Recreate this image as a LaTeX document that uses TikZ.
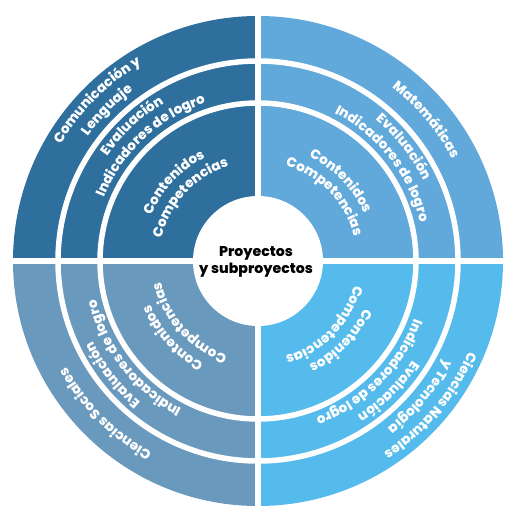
\documentclass[tikz,border=0pt]{standalone}
\usepackage{fontspec}
\setmainfont{Poppins}[BoldFont={Poppins ExtraBold}]
\usetikzlibrary{decorations.text}
\definecolor{cTL}{RGB}{46,111,158}
\definecolor{cTR}{RGB}{97,168,219}
\definecolor{cBL}{RGB}{106,153,190}
\definecolor{cBR}{RGB}{85,187,236}
\newcommand\lblfont{\bfseries\fontsize{13.6}{16}\selectfont}
% #1 radius, #2 centre angle, #3 text
\newcommand\arctext[3]{%
  \path[decorate,decoration={text along path,text align=center,text color=white,
     text={|\lblfont|#3}}]
     (#2+75:#1) arc[start angle=#2+75,end angle=#2-75,radius=#1];}
\begin{document}
\begin{tikzpicture}[x=1bp,y=1bp,
  gapline/.style={white,line width=5.5bp},
  centertext/.style={font=\bfseries\fontsize{14.2}{17}\selectfont,text=black,anchor=base,inner sep=0pt}]
\useasboundingbox (-258,-266) rectangle (269,261);
% quadrants
\fill[cTL] (0,0) -- (180:245) arc[start angle=180,end angle=90,radius=245] -- cycle;
\fill[cTR] (0,0) -- (90:245) arc[start angle=90,end angle=0,radius=245] -- cycle;
\fill[cBL] (0,0) -- (270:245) arc[start angle=270,end angle=180,radius=245] -- cycle;
\fill[cBR] (0,0) -- (0:245) arc[start angle=360,end angle=270,radius=245] -- cycle;
% gaps
\draw[gapline] (-250,0) -- (250,0);
\draw[gapline] (0,-250) -- (0,250);
\draw[gapline] (0,0) circle[radius=200];
\draw[gapline] (0,0) circle[radius=158];
\fill[white] (0,0) circle[radius=65];
% centre
\node[centertext] (p1) at (-2,4.3) {Proyectos};
\node[centertext] (p2) at (-2,-12.3) {y subproyectos};
% top-left
\arctext{229}{135}{Comunicación y}
\arctext{211}{135}{Lenguaje}
\arctext{183.5}{133}{Evaluación}
\arctext{166.5}{133}{Indicadores de logro}
\arctext{116}{137}{Contenidos}
\arctext{99}{137}{Competencias}
% top-right
\arctext{219}{40}{Matemáticas}
\arctext{183.5}{38}{Evaluación}
\arctext{166.5}{38}{Indicadores de logro}
\arctext{116}{44}{Contenidos}
\arctext{99}{44}{Competencias}
% bottom-left
\arctext{219}{225}{Ciencias Sociales}
\arctext{183.5}{218}{Evaluación}
\arctext{166.5}{218}{Indicadores de logro}
\arctext{116}{222}{Contenidos}
\arctext{99}{222}{Competencias}
% bottom-right
\arctext{229}{-40}{Ciencias Naturales}
\arctext{211}{-40}{y Tecnología}
\arctext{183.5}{-45}{Evaluación}
\arctext{166.5}{-45}{Indicadores de logro}
\arctext{116}{-44}{Contenidos}
\arctext{99}{-44}{Competencias}
\end{tikzpicture}
\end{document}
